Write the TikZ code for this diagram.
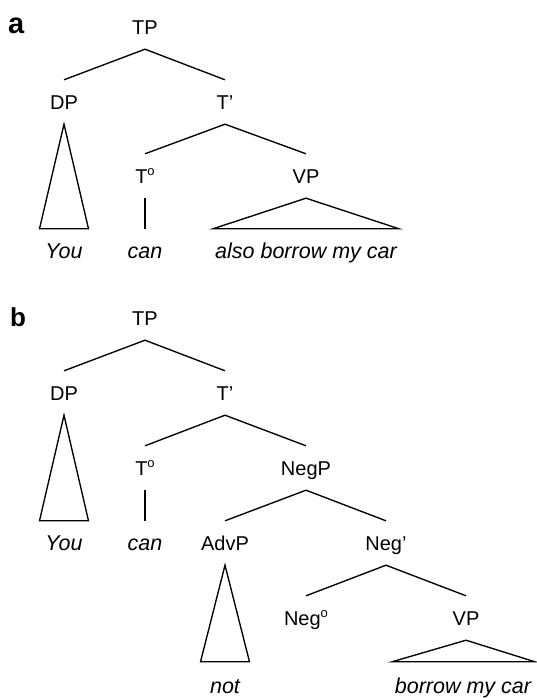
\documentclass[tikz,border=0pt]{standalone}
\usepackage{fontspec}
\setmainfont{Liberation Sans}
\newcommand{\headmark}{{\fontsize{13}{13}\selectfont\raisebox{7.5pt}{o}}}
\begin{document}
\begin{tikzpicture}[x=1pt,y=-1pt,
  cat/.style={inner sep=0pt,minimum height=44pt,font=\fontsize{20}{24}\selectfont,text height=14.3pt,text depth=0pt},
  word/.style={cat,font=\fontsize{21.5}{25}\selectfont\itshape},
  panel/.style={inner sep=0pt,anchor=base west,font=\bfseries},
  branch/.style={line width=1.35pt},
  ]
\useasboundingbox (0,0) rectangle (536,698);
% ---------- tree a ----------
\node[panel,font=\fontsize{29}{32}\selectfont\bfseries] (la) at (8,34) {a};
\node[cat] (TPa) at (145,27) {TP};
\node[cat] (DPa) at (64,102) {DP};
\node[cat] (Tba) at (225,102) {T’};
\node[cat] (T0a) at (145,176) {T\headmark};
\node[cat] (VPa) at (306,176) {VP};
\node[word] (Youa) at (64,251) {You};
\node[word] (cana) at (145,251) {can};
\node[word] (alsoa) at (306,251) {also borrow my car};
\draw[branch] (DPa.north) -- (TPa.south) -- (Tba.north);
\draw[branch] (T0a.north) -- (Tba.south) -- (VPa.north);
\draw[branch] (DPa.south) -- ([xshift=-24.5pt]Youa.north) -- ([xshift=24.5pt]Youa.north) -- cycle;
\draw[branch] (T0a.south) -- (cana.north);
\draw[branch] (VPa.south) -- ([xshift=-93pt]alsoa.north) -- ([xshift=93pt]alsoa.north) -- cycle;
% ---------- tree b ----------
\node[panel,font=\fontsize{26}{30}\selectfont\bfseries] (lb) at (10,326) {b};
\node[cat] (TPb) at (145,318) {TP};
\node[cat] (DPb) at (64,393) {DP};
\node[cat] (Tbb) at (225,393) {T’};
\node[cat] (T0b) at (145,468) {T\headmark};
\node[cat] (NegPb) at (306,468) {NegP};
\node[word] (Youb) at (64,543) {You};
\node[word] (canb) at (145,543) {can};
\node[cat] (AdvPb) at (225,543) {AdvP};
\node[cat] (Negbb) at (386,543) {Neg’};
\node[cat] (Neg0b) at (306,618) {Neg\headmark};
\node[cat] (VPb) at (466,618) {VP};
\node[word] (notb) at (225,686) {not};
\node[word] (borrowb) at (463,686) {borrow my car};
\draw[branch] (DPb.north) -- (TPb.south) -- (Tbb.north);
\draw[branch] (T0b.north) -- (Tbb.south) -- (NegPb.north);
\draw[branch] (DPb.south) -- ([xshift=-24.5pt]Youb.north) -- ([xshift=24.5pt]Youb.north) -- cycle;
\draw[branch] (T0b.south) -- (canb.north);
\draw[branch] (AdvPb.north) -- (NegPb.south) -- (Negbb.north);
\draw[branch] (AdvPb.south) -- ([xshift=-24.5pt,yshift=2pt]notb.north) -- ([xshift=24.5pt,yshift=2pt]notb.north) -- cycle;
\draw[branch] (Neg0b.north) -- (Negbb.south) -- (VPb.north);
\draw[branch] (VPb.south) -- ([xshift=-71pt,yshift=2pt]borrowb.north) -- ([xshift=72pt,yshift=2pt]borrowb.north) -- cycle;
\end{tikzpicture}
\end{document}
